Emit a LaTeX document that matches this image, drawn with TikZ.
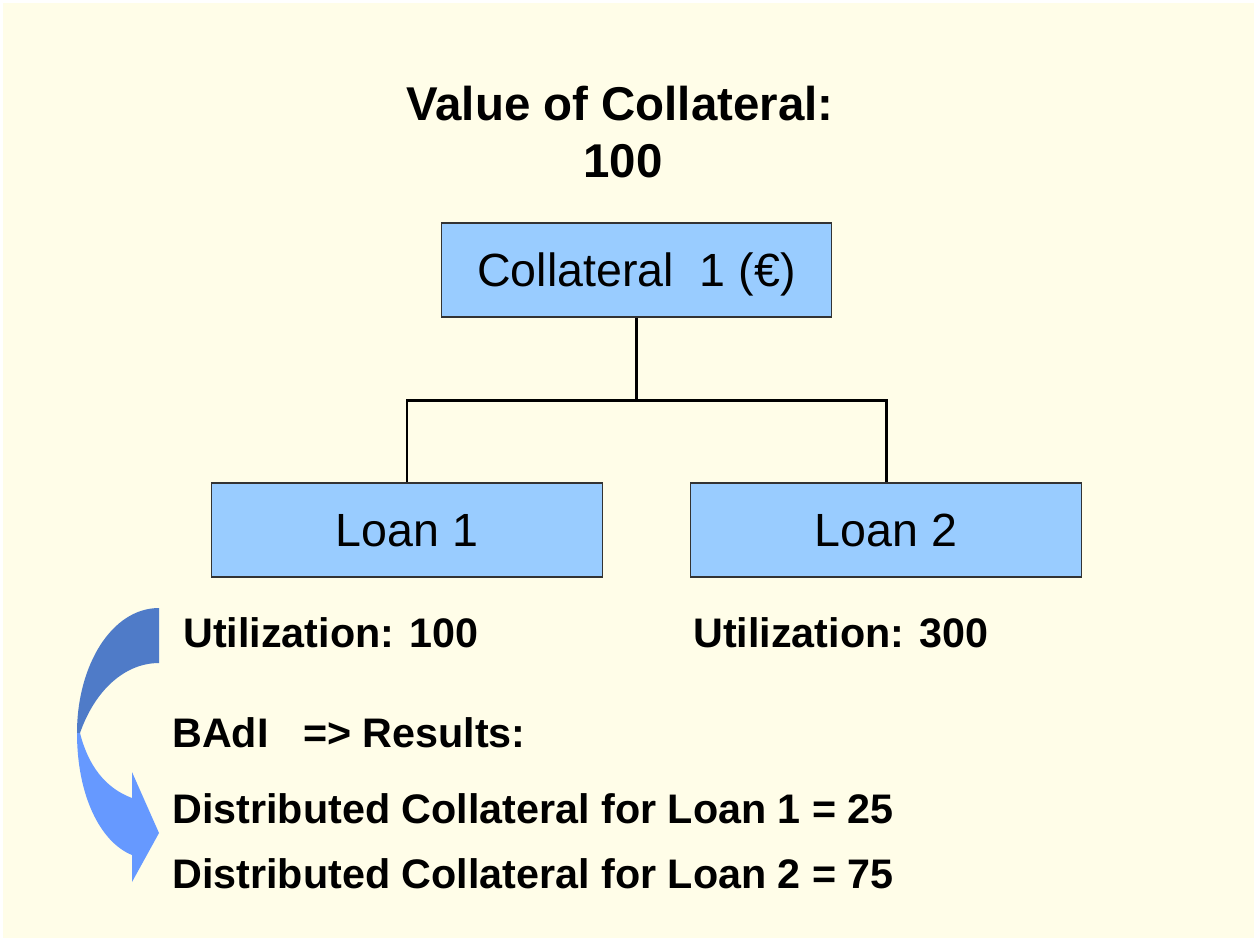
\documentclass[tikz,border=0pt]{standalone}
\usepackage{fontspec}
\setmainfont{Liberation Sans}
\definecolor{bgcream}{HTML}{FFFDE8}
\definecolor{boxblue}{HTML}{99CCFF}
\definecolor{boxedge}{HTML}{333333}
\definecolor{arrdark}{HTML}{4F7BC8}
\definecolor{arrlight}{HTML}{6699FF}
\begin{document}
\begin{tikzpicture}[x=0.02cm,y=-0.02cm,
  blueBox/.style={draw=boxedge,line width=0.6pt,fill=boxblue,inner sep=0pt,
    minimum width=7.82cm,minimum height=1.88cm,text height=19pt,text depth=0pt,
    font=\fontsize{26.5}{30}\selectfont},
  boldText/.style={font=\fontsize{23.5}{28}\selectfont\bfseries,anchor=base west,inner sep=0pt},
  titleText/.style={font=\fontsize{27}{32}\selectfont\bfseries,anchor=base,inner sep=0pt},
  link/.style={line width=1.7pt,black}]
\useasboundingbox (0,0) rectangle (1254,938);
\fill[white] (0,0) rectangle (1254,938);
\fill[bgcream] (3,3) rectangle (1254,938);
% title
\node[titleText] (t1) at (620,120) {Value of Collateral:};
\node[titleText] (t2) at (623,177) {100};
% boxes
\node[blueBox] (col) at (636.5,270) {Collateral\ \ 1 (€)};
\node[blueBox] (loan1) at (407,530) {Loan 1};
\node[blueBox] (loan2) at (886,530) {Loan 2};
% connectors
\coordinate (mid) at (636.5,400);
\draw[link] (col.south) -- (mid);
\draw[link] (loan1.north) |- (mid) -| (loan2.north);
% texts
\node[boldText] (u1) at (183,647) {Utilization: 100};
\node[boldText] (u2) at (693,647) {Utilization: 300};
\node[boldText] (badi) at (172,747) {BAdI\ \ \ => Results:};
\node[boldText] (d1) at (172,823) {Distributed Collateral for Loan 1 = 25};
\node[boldText] (d2) at (172,888) {Distributed Collateral for Loan 2 = 75};
% curved arrow
\fill[arrdark] (159,608) .. controls (112,608) and (77,665) .. (77,733)
  -- (80,733) .. controls (95,690) and (125,663) .. (159,663) -- cycle;
\fill[arrlight] (77,733) .. controls (77,795) and (100,842) .. (132,855)
  -- (132,882) -- (159,833) -- (132,772) -- (132,798)
  .. controls (105,788) and (88,765) .. (80,733) -- cycle;
\end{tikzpicture}
\end{document}
